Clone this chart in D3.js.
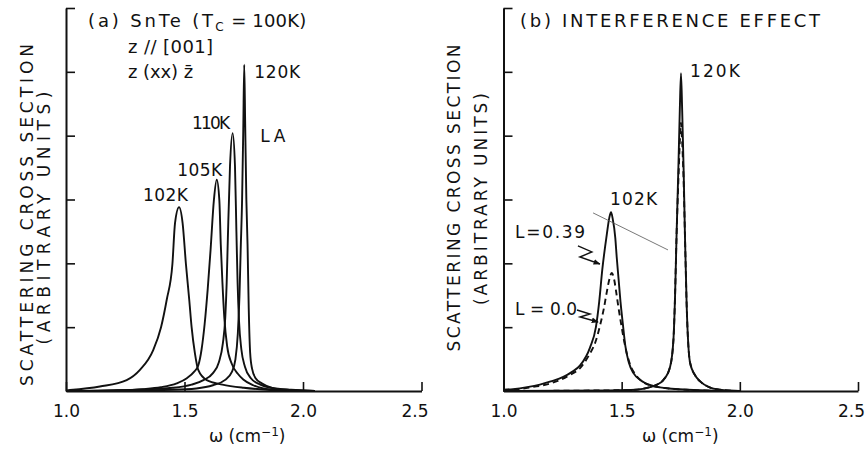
<!DOCTYPE html>
<html>
<head>
<meta charset="utf-8">
<script src="https://cdn.jsdelivr.net/npm/d3@7"></script>
<style>
    body { margin: 0; background: #fff; }
    svg text { font-family: "DejaVu Sans", sans-serif; fill: #111; }
    .axis .domain { stroke: #111; stroke-width: 2; }
    .axis .tick line { stroke: #111; stroke-width: 1.6; }
    .axis .tick text { font-size: 17px; }
    .curve { fill: none; stroke: #111; stroke-width: 1.9; }
    .dashed { stroke-dasharray: 6 4; }
</style>
</head>
<body>
<div id="chart"></div>
<script>
// x axis ticks (omega, cm^-1) and y ticks (arbitrary units)
const omegaTicks = [1.0, 1.5, 2.0, 2.5];
const tickLabels = ["1.0", "1.5", "2.0", "2.5"];
const yTicks = [1, 2, 3, 4, 5, 6];

// panel (a): SnTe spectra at several temperatures, [omega, intensity]
const a102K = [[1.00, 0.01], [1.017, 0.015], [1.143, 0.07], [1.256, 0.17], [1.312, 0.33], [1.368, 0.64],
    [1.401, 1.00], [1.425, 1.43], [1.449, 1.99], [1.460, 2.63], [1.477, 2.88], [1.492, 2.63], [1.506, 1.99],
    [1.520, 1.43], [1.530, 1.00], [1.544, 0.59], [1.558, 0.33], [1.594, 0.17], [1.66, 0.10], [1.75, 0.05],
    [1.85, 0.02], [1.95, 0.01], [2.05, 0.0]];
const a105K = [[1.00, 0.0], [1.20, 0.01], [1.326, 0.03], [1.40, 0.06], [1.467, 0.12], [1.51, 0.20], [1.54, 0.30],
    [1.558, 0.40], [1.572, 0.65], [1.585, 1.05], [1.598, 1.60], [1.610, 2.21], [1.624, 2.99], [1.636, 3.31],
    [1.647, 2.99], [1.653, 2.30], [1.660, 1.70], [1.668, 1.15], [1.680, 0.70], [1.699, 0.43], [1.725, 0.27],
    [1.748, 0.18], [1.79, 0.09], [1.833, 0.04], [1.90, 0.015], [2.00, 0.0]];
const a110K = [[1.00, 0.0], [1.30, 0.02], [1.45, 0.05], [1.53, 0.10], [1.58, 0.17], [1.62, 0.28], [1.645, 0.45],
    [1.662, 0.75], [1.672, 1.15], [1.678, 1.70], [1.683, 2.40], [1.692, 3.52], [1.703, 4.04], [1.713, 3.52],
    [1.719, 2.50], [1.724, 1.70], [1.730, 1.10], [1.740, 0.65], [1.755, 0.38], [1.78, 0.20], [1.82, 0.10],
    [1.88, 0.04], [1.95, 0.015], [2.05, 0.0]];
const a120K = [[1.00, 0.0], [1.45, 0.02], [1.55, 0.04], [1.62, 0.09], [1.67, 0.17], [1.70, 0.30], [1.715, 0.50],
    [1.725, 0.90], [1.732, 1.50], [1.737, 2.20], [1.743, 3.00], [1.748, 4.10], [1.752, 5.11], [1.756, 4.20],
    [1.761, 3.00], [1.766, 2.30], [1.771, 1.30], [1.777, 0.60], [1.785, 0.35], [1.80, 0.20], [1.826, 0.12],
    [1.87, 0.05], [1.95, 0.02], [2.05, 0.0]];

// panel (b): interference effect, [omega, intensity]
const b102K_L039 = [[1.00, 0.02], [1.04, 0.03], [1.10, 0.06], [1.154, 0.10], [1.20, 0.15], [1.253, 0.22],
    [1.29, 0.30], [1.324, 0.40], [1.366, 0.68], [1.391, 1.00], [1.405, 1.40], [1.418, 1.90], [1.437, 2.45],
    [1.448, 2.72], [1.455, 2.80], [1.462, 2.70], [1.473, 2.40], [1.479, 2.10], [1.487, 1.75], [1.495, 1.40],
    [1.505, 1.05], [1.515, 0.72], [1.53, 0.45], [1.55, 0.28], [1.58, 0.17], [1.634, 0.08], [1.70, 0.04],
    [1.78, 0.02], [1.90, 0.005], [2.00, 0.0]];
const b102K_L0 = [[1.00, 0.01], [1.05, 0.02], [1.12, 0.06], [1.20, 0.12], [1.28, 0.25], [1.324, 0.36],
    [1.36, 0.55], [1.39, 0.78], [1.41, 1.05], [1.425, 1.30], [1.437, 1.55], [1.448, 1.75], [1.458, 1.85],
    [1.468, 1.75], [1.478, 1.52], [1.488, 1.27], [1.50, 1.00], [1.515, 0.70], [1.535, 0.42], [1.56, 0.25],
    [1.58, 0.17], [1.62, 0.09], [1.70, 0.04], [1.80, 0.015], [1.90, 0.0]];
const b120K_L039 = [[1.00, 0.0], [1.45, 0.01], [1.56, 0.02], [1.62, 0.06], [1.65, 0.10], [1.676, 0.17],
    [1.705, 0.38], [1.719, 0.80], [1.726, 1.50], [1.732, 2.40], [1.740, 3.50], [1.746, 4.40], [1.751, 4.98],
    [1.756, 4.40], [1.762, 3.50], [1.768, 2.40], [1.775, 1.35], [1.789, 0.45], [1.81, 0.25], [1.832, 0.15],
    [1.87, 0.06], [1.916, 0.02], [2.00, 0.0]];
const b120K_L0 = [[1.00, 0.0], [1.45, 0.01], [1.56, 0.02], [1.62, 0.06], [1.65, 0.10], [1.676, 0.17],
    [1.705, 0.38], [1.719, 0.80], [1.726, 1.50], [1.732, 2.40], [1.740, 3.30], [1.746, 3.90], [1.751, 4.20],
    [1.756, 3.90], [1.762, 3.30], [1.768, 2.40], [1.775, 1.35], [1.789, 0.45], [1.81, 0.25], [1.832, 0.15],
    [1.87, 0.06], [1.916, 0.02], [2.00, 0.0]];

const W = 866, H = 449;

const svg = d3.select("#chart").append("svg")
    .attr("width", W)
    .attr("height", H);

svg.append("rect").attr("width", W).attr("height", H).attr("fill", "#fff");

const defs = svg.append("defs");
defs.append("marker")
    .attr("id", "head")
    .attr("viewBox", "0 0 10 10")
    .attr("refX", 9).attr("refY", 5)
    .attr("markerWidth", 7).attr("markerHeight", 7)
    .attr("markerUnits", "userSpaceOnUse")
    .attr("orient", "auto")
    .append("path").attr("d", "M0,1 L10,5 L0,9 Z").attr("fill", "#111");

const y = d3.scaleLinear().domain([0, 6]).range([391, 8]);

function addText(g, str, x, yy, size, len) {
    const t = g.append("text")
        .attr("x", x).attr("y", yy)
        .style("font-size", size + "px")
        .text(str);
    if (len) t.attr("textLength", len).attr("lengthAdjust", "spacing");
    return t;
}

function drawPanel(range, series, yLab) {
    const x = d3.scaleLinear().domain([1.0, 2.5]).range(range);
    const g = svg.append("g");

    const line = d3.line()
        .x(d => x(d[0]))
        .y(d => y(d[1]))
        .curve(d3.curveMonotoneX);

    series.forEach(s => {
        g.append("path")
            .attr("class", "curve" + (s.dashed ? " dashed" : ""))
            .attr("d", line(s.values));
    });

    const xAxis = d3.axisBottom(x)
        .tickValues(omegaTicks)
        .tickSizeInner(-9)
        .tickSizeOuter(0)
        .tickPadding(14)
        .tickFormat((d, i) => tickLabels[i]);

    const yAxis = d3.axisLeft(y)
        .tickValues(yTicks)
        .tickSizeInner(-9)
        .tickSizeOuter(0)
        .tickFormat("");

    const gx = g.append("g").attr("class", "axis")
        .attr("transform", "translate(0," + y(0) + ")")
        .call(xAxis);
    // last label sits a little left of its tick, as in the original
    gx.selectAll(".tick text").filter(d => d === 2.5).attr("dx", -7);

    g.append("g").attr("class", "axis")
        .attr("transform", "translate(" + x(1.0) + ",0)")
        .call(yAxis);
    g.selectAll(".axis text").attr("fill", "#111").style("font-family", '"DejaVu Sans", sans-serif');

    // y label, two rotated lines
    yLab.forEach(l => {
        g.append("text")
            .attr("transform", "translate(" + l.x + "," + l.cy + ") rotate(-90)")
            .attr("text-anchor", "middle")
            .style("font-size", "17px")
            .attr("textLength", l.len).attr("lengthAdjust", "spacing")
            .text(l.text);
    });

    return {g, x};
}

// ---- panel (a)
const pa = drawPanel([66, 421.5], [
    {values: a102K}, {values: a105K}, {values: a110K}, {values: a120K}
], [
    {text: "SCATTERING CROSS SECTION", x: 33, cy: 215, len: 342},
    {text: "(ARBITRARY UNITS)", x: 50, cy: 218, len: 253}
]);

addText(pa.g, "(a) SnTe (T", pa.x(1.093), y(5.70), 18, 125);
addText(pa.g, "C", pa.x(1.63), y(5.64), 12);
addText(pa.g, "= 100K)", pa.x(1.697), y(5.70), 18, 75);
addText(pa.g, "z // [001]", pa.x(1.262), y(5.30), 18, 85);
addText(pa.g, "z (xx) z\u0304", pa.x(1.262), y(4.90), 18, 65);
addText(pa.g, "102K", pa.x(1.325), y(2.98), 17, 45);
addText(pa.g, "105K", pa.x(1.469), y(3.37), 17, 45);
addText(pa.g, "110K", pa.x(1.532), y(4.10), 17, 38);
addText(pa.g, "LA", pa.x(1.820), y(3.90), 17, 25);
addText(pa.g, "120K", pa.x(1.794), y(4.90), 17, 46);

const xt = addText(pa.g, "\u03c9 (cm", pa.x(1.603), 442, 17);
xt.append("tspan").attr("dy", -6).style("font-size", "12px").text("\u22121");
xt.append("tspan").attr("dy", 6).text(")");

// ---- panel (b)
const pb = drawPanel([503.5, 858], [
    {values: b102K_L0, dashed: true}, {values: b120K_L0, dashed: true},
    {values: b102K_L039}, {values: b120K_L039}
], [
    {text: "SCATTERING CROSS SECTION", x: 460, cy: 198, len: 307},
    {text: "(ARBITRARY UNITS)", x: 487, cy: 199, len: 212}
]);

addText(pb.g, "(b) INTERFERENCE EFFECT", pb.x(1.070), y(5.70), 18, 300);
addText(pb.g, "120K", pb.x(1.789), y(4.92), 17, 50);
addText(pb.g, "102K", pb.x(1.451), y(2.91), 17, 47);
addText(pb.g, "L=0.39", pb.x(1.049), y(2.40), 17, 70);
addText(pb.g, "L = 0.0", pb.x(1.049), y(1.19), 17, 62);

const xt2 = addText(pb.g, "\u03c9 (cm", pb.x(1.586), 442, 17);
xt2.append("tspan").attr("dy", -6).style("font-size", "12px").text("\u22121");
xt2.append("tspan").attr("dy", 6).text(")");

// thin guide line and arrows
const annLine = d3.line().x(d => pb.x(d[0])).y(d => y(d[1]));
pb.g.append("path")
    .attr("d", annLine([[1.379, 2.79], [1.696, 2.21]]))
    .attr("fill", "none").attr("stroke", "#555").attr("stroke-width", 0.8);

[[[1.315, 2.272], [1.374, 2.178], [1.323, 2.099], [1.408, 1.990]],
 [[1.311, 1.269], [1.366, 1.206], [1.324, 1.159], [1.400, 1.081]]].forEach(a => {
    pb.g.append("path")
        .attr("d", annLine(a))
        .attr("fill", "none").attr("stroke", "#111").attr("stroke-width", 1.4)
        .attr("marker-end", "url(#head)");
});
</script>
</body>
</html>
